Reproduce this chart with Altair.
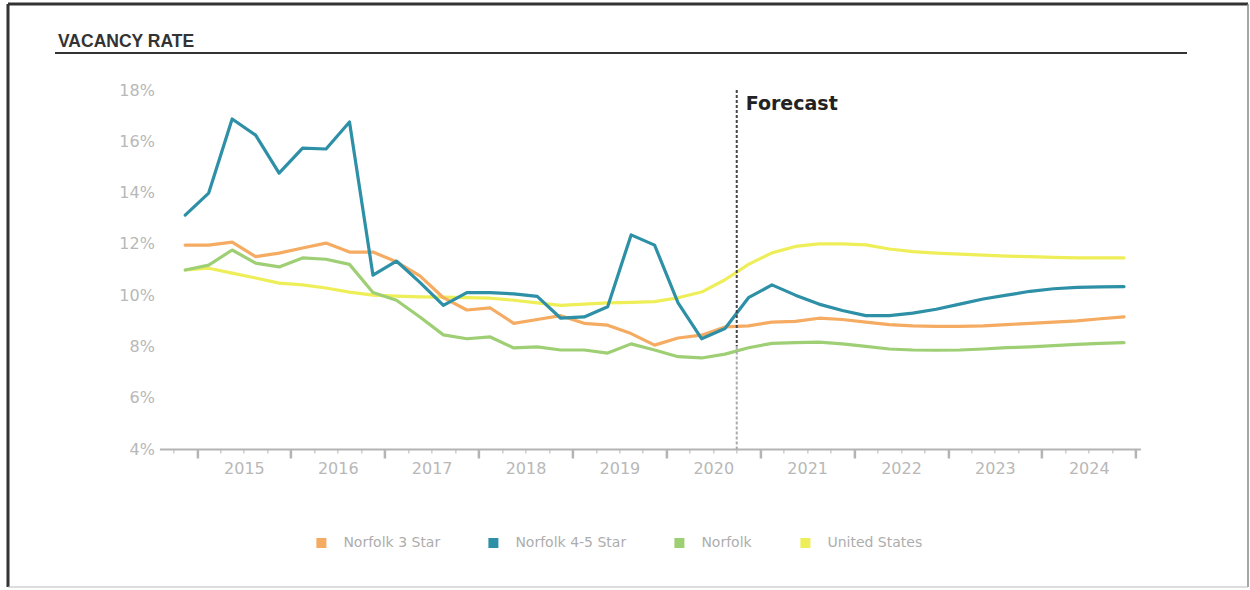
import altair as alt
import pandas as pd

# ---------------- data ----------------
years = list(range(2014, 2025))
quarters = [f"{y}Q{q}" for y in years for q in (1, 2, 3, 4)][3:44]  # 2014Q4 .. 2024Q4

norfolk_3_star = [11.95, 11.95, 12.07, 11.5, 11.64, 11.84, 12.03, 11.68, 11.68, 11.3,
                  10.75, 9.9, 9.42, 9.5, 8.9, 9.05, 9.2, 8.9, 8.83, 8.5,
                  8.05, 8.33, 8.44, 8.76, 8.8, 8.95, 8.98, 9.1, 9.05, 8.95,
                  8.85, 8.8, 8.78, 8.78, 8.8, 8.85, 8.9, 8.95, 9.0, 9.08, 9.15]
norfolk_45_star = [13.12, 13.98, 16.87, 16.24, 14.76, 15.73, 15.7, 16.75, 10.78, 11.33,
                   10.5, 9.6, 10.1, 10.1, 10.05, 9.95, 9.1, 9.15, 9.55, 12.35,
                   11.95, 9.7, 8.3, 8.7, 9.9, 10.4, 10.0, 9.65, 9.4, 9.2,
                   9.2, 9.3, 9.45, 9.65, 9.85, 10.0, 10.15, 10.25, 10.3, 10.32, 10.33]
norfolk_all = [10.98, 11.17, 11.76, 11.25, 11.1, 11.45, 11.4, 11.2, 10.1, 9.8,
               9.15, 8.45, 8.3, 8.37, 7.94, 7.98, 7.86, 7.86, 7.74, 8.1,
               7.86, 7.6, 7.55, 7.7, 7.95, 8.12, 8.15, 8.17, 8.1, 8.0,
               7.9, 7.86, 7.85, 7.86, 7.9, 7.95, 7.98, 8.03, 8.08, 8.12, 8.15]
united_states = [10.98, 11.05, 10.86, 10.67, 10.47, 10.4, 10.28, 10.12, 10.0, 9.96,
                 9.93, 9.92, 9.9, 9.88, 9.8, 9.7, 9.6, 9.65, 9.7, 9.72,
                 9.75, 9.9, 10.12, 10.6, 11.2, 11.65, 11.9, 12.0, 12.0, 11.96,
                 11.8, 11.7, 11.64, 11.6, 11.56, 11.52, 11.5, 11.47, 11.45, 11.45, 11.45]

series_names = ["Norfolk 3 Star", "Norfolk 4-5 Star", "Norfolk", "United States"]
series_colors = ["#f5ab62", "#2d90a6", "#9fcf74", "#eeee58"]
series_values = [norfolk_3_star, norfolk_45_star, norfolk_all, united_states]

y_ticks = [4, 6, 8, 10, 12, 14, 16, 18]
x_tick_values = [2014.75 + 0.25 * k for k in range(42)]  # quarter boundaries
forecast_start = 2020.75
forecast_label = "Forecast"
chart_title = "VACANCY RATE"


def q_to_t(q):
    y, qq = q.split("Q")
    return int(y) + (int(qq) - 1) / 4 + 0.125


rows = []
for name, vals in zip(series_names, series_values):
    for q, v in zip(quarters, vals):
        rows.append({"t": q_to_t(q), "quarter": q, "value": v, "series": name})
df = pd.DataFrame(rows)

W, H = 981, 359
LEFT, TOP = 159.4, 90

x_scale = alt.Scale(domain=[2014.6, 2025.05], nice=False, zero=False)
y_scale = alt.Scale(domain=[4, 18], nice=False, zero=False)
color_scale = alt.Scale(domain=series_names, range=series_colors)

x_axis = alt.Axis(
    values=x_tick_values,
    title=None,
    grid=False,
    domainColor="#b4b4b4",
    domainWidth=2,
    tickColor="#b4b4b4",
    tickWidth={"condition": {"test": "datum.value % 1 == 0", "value": 2.5}, "value": 1},
    tickSize={"condition": {"test": "datum.value % 1 == 0", "value": 9}, "value": 4},
    labelExpr="datum.value % 1 == 0.5 ? floor(datum.value) : ''",
    labelOverlap=False,
    labelFont="DejaVu Sans",
    labelFontSize=16,
    labelColor="#b8b8b8",
    labelPadding=7,
    labelFlush=False,
)
y_axis = alt.Axis(
    values=y_ticks,
    title=None,
    grid=False,
    domain=False,
    ticks=False,
    labelExpr="datum.value + '%'",
    labelFont="DejaVu Sans",
    labelFontSize=16,
    labelColor="#b8b8b8",
    labelPadding=5,
)

legend = alt.Legend(
    title=None,
    orient="none",
    direction="horizontal",
    legendX=155,
    legendY=446,
    symbolType="square",
    symbolSize=4,
    symbolStrokeWidth=8,
    labelFont="DejaVu Sans",
    labelFontSize=14,
    labelColor="#adadad",
    labelOffset=15,
    columnPadding=36,
)

X = alt.X("t:Q", scale=x_scale, axis=x_axis)
Y = alt.Y("value:Q", scale=y_scale, axis=y_axis)


def series_layer(name):
    return (
        alt.Chart(df)
        .transform_filter(alt.datum.series == name)
        .mark_line(strokeWidth=3.2, strokeJoin="round", strokeCap="round")
        .encode(
            x=X,
            y=Y,
            color=alt.Color("series:N", scale=color_scale, legend=legend),
        )
    )


layers = [
    series_layer("United States"),
    series_layer("Norfolk"),
    series_layer("Norfolk 3 Star"),
    series_layer("Norfolk 4-5 Star"),
]

fc_df = pd.DataFrame({"t": [forecast_start], "label": [forecast_label],
                      "top": [18], "mid": [8], "bottom": [4]})
forecast_rule_top = alt.Chart(fc_df).mark_rule(
    color="#444444", strokeWidth=2, strokeDash=[3, 2]
).encode(x=X, y=alt.Y("top:Q", scale=y_scale, axis=y_axis), y2="mid:Q")
forecast_rule_bottom = alt.Chart(fc_df).mark_rule(
    color="#aaaaaa", strokeWidth=2, strokeDash=[3, 2]
).encode(x=X, y=alt.Y("mid:Q", scale=y_scale, axis=y_axis), y2="bottom:Q")
forecast_text = alt.Chart(fc_df).mark_text(
    align="left", baseline="alphabetic", dx=9, font="DejaVu Sans",
    fontWeight="bold", fontSize=19, color="#222222"
).encode(x=X, y=alt.value(20), text="label:N")

title_df = pd.DataFrame({"label": [chart_title]})
title_text = alt.Chart(title_df).mark_text(
    align="left", baseline="alphabetic", font="Liberation Sans",
    fontWeight="bold", fontSize=17.5, color="#333333"
).encode(x=alt.value(58 - LEFT), y=alt.value(47 - TOP), text="label:N")

underline = alt.Chart(title_df).mark_rule(color="#333333", strokeWidth=2).encode(
    x=alt.value(55 - LEFT), x2=alt.value(1187 - LEFT), y=alt.value(53 - TOP)
)
border_top = alt.Chart(title_df).mark_rule(color="#333333", strokeWidth=3).encode(
    x=alt.value(8 - LEFT), x2=alt.value(1248 - LEFT), y=alt.value(4 - TOP)
)
border_left = alt.Chart(title_df).mark_rule(color="#333333", strokeWidth=3).encode(
    x=alt.value(8 - LEFT), y=alt.value(4 - TOP), y2=alt.value(587 - TOP)
)
border_right = alt.Chart(title_df).mark_rule(color="#888888", strokeWidth=1.5).encode(
    x=alt.value(1248 - LEFT), y=alt.value(4 - TOP), y2=alt.value(587 - TOP)
)
border_bottom = alt.Chart(title_df).mark_rule(color="#bbbbbb", strokeWidth=1).encode(
    x=alt.value(8 - LEFT), x2=alt.value(1248 - LEFT), y=alt.value(587 - TOP)
)

chart = (
    alt.layer(
        *layers, forecast_rule_top, forecast_rule_bottom, forecast_text, title_text,
        underline, border_top, border_left, border_right, border_bottom
    )
    .properties(
        width=W,
        height=H,
        autosize=alt.AutoSizeParams(type="none"),
        padding={"left": LEFT, "top": TOP, "right": 1250 - LEFT - W, "bottom": 590 - TOP - H},
        background="white",
    )
    .configure_view(stroke=None)
)

chart.save("out.html", embed_options={"renderer": "svg", "actions": False})
